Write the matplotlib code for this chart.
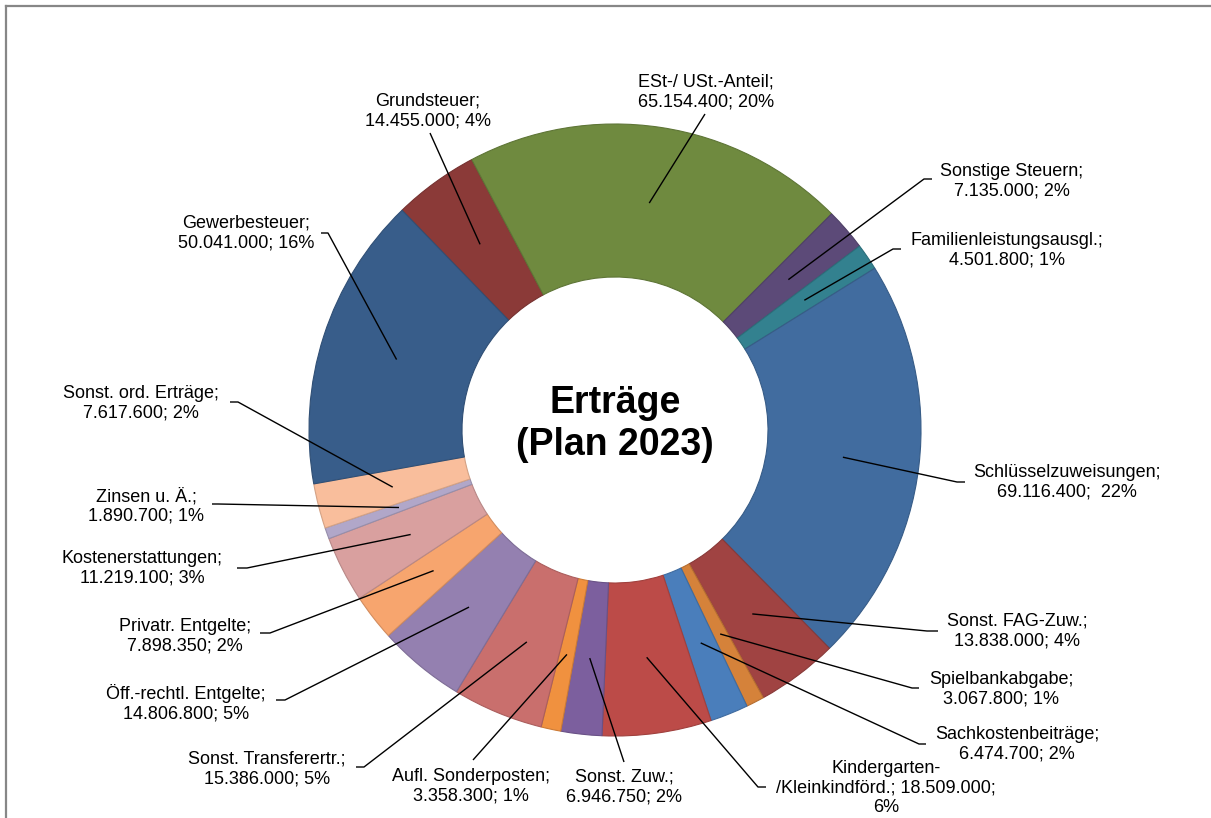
"""
Donut chart: Ertraege (Plan 2023)
"""

import numpy as np
import matplotlib
matplotlib.use('Agg')
import matplotlib.pyplot as plt
from matplotlib.lines import Line2D

plt.rcParams['font.family'] = ['Liberation Sans', 'DejaVu Sans']

# data, clockwise starting with Grundsteuer
names = ['Grundsteuer', 'ESt-/ USt.-Anteil', 'Sonstige Steuern', 'Familienleistungsausgl.',
         'Schlüsselzuweisungen', 'Sonst. FAG-Zuw.', 'Spielbankabgabe', 'Sachkostenbeiträge',
         'Kindergarten-/Kleinkindförd.', 'Sonst. Zuw.', 'Aufl. Sonderposten',
         'Sonst. Transferertr.', 'Öff.-rechtl. Entgelte', 'Privatr. Entgelte',
         'Kostenerstattungen', 'Zinsen u. Ä.', 'Sonst. ord. Erträge', 'Gewerbesteuer']
values = [14455000, 65154400, 7135000, 4501800,
          69116400, 13838000, 3067800, 6474700,
          18509000, 6946750, 3358300,
          15386000, 14806800, 7898350,
          11219100, 1890700, 7617600, 50041000]
colors = ['#8B3A38', '#6F8A3F', '#5C4A78', '#33818F',
          '#416C9F', '#A04342', '#D5823A', '#4A7EBB',
          '#BC4B48', '#7C5F9E', '#F0913F',
          '#C96F6D', '#9480B0', '#F7A56E',
          '#D9A09F', '#B1A7C9', '#F9BE9C', '#385D8A']

# label layout in pixels: text centre, elbow of leader line, end of short stub
lay = {
    'Grundsteuer': ((428, 111), (430, 133), None),
    'ESt-/ USt.-Anteil': ((706, 92), (705, 114), None),
    'Sonstige Steuern': ((1012, 181), (924, 179), (932, 179)),
    'Familienleistungsausgl.': ((1007, 250), (893, 249), (901, 249)),
    'Schlüsselzuweisungen': ((1067, 482), (957, 482), (965, 482)),
    'Sonst. FAG-Zuw.': ((1017, 631), (927, 631), (938, 631)),
    'Spielbankabgabe': ((1001, 689), (912, 688), (919, 688)),
    'Sachkostenbeiträge': ((1017, 744), (919, 744), (926, 744)),
    'Kindergarten-/Kleinkindförd.': ((886, 788), (758, 787), (766, 787)),
    'Sonst. Zuw.': ((624, 787), (624, 762), None),
    'Aufl. Sonderposten': ((471, 786), (473, 760), None),
    'Sonst. Transferertr.': ((267, 769), (364, 767), (356, 767)),
    'Öff.-rechtl. Entgelte': ((186, 703), (285, 700), (276, 700)),
    'Privatr. Entgelte': ((185, 636), (270, 633), (260, 633)),
    'Kostenerstattungen': ((142, 568), (247, 568), (237, 568)),
    'Zinsen u. Ä.': ((146, 506), (218, 504), (212, 504)),
    'Sonst. ord. Erträge': ((141, 403), (238, 402), (230, 402)),
    'Gewerbesteuer': ((246, 233), (328, 233), (321, 233)),
}

W, H = 1211, 818
cx, cy = 615, 430   # pie centre in pixels
R = 306

def P(x, y):
    # pixel (y down) -> data (y up)
    return x, H - y

def darker(c, f=0.85):
    rgb = np.array(matplotlib.colors.to_rgb(c))
    return tuple(rgb * f)

total = sum(values)

plt.close('all')
fig = plt.figure(figsize=(W / 100, H / 100), dpi=100)
ax = fig.add_axes([0, 0, 1, 1])

wedges, _ = ax.pie(values, colors=colors, startangle=134.1, counterclock=False,
                   radius=R, center=P(cx, cy),
                   wedgeprops=dict(width=R * 0.5, linewidth=0.8))
for w, c in zip(wedges, colors):
    w.set_edgecolor(darker(c))

ax.set_xlim(0, W)
ax.set_ylim(0, H)
ax.set_aspect('equal')
ax.axis('off')

fs = 13
for w, name, v in zip(wedges, names, values):
    pct = int(round(v / total * 100))
    val = f'{v:,}'.replace(',', '.')
    if name.startswith('Kindergarten'):
        txt = f'Kindergarten-\n/Kleinkindförd.; {val};\n{pct}%'
    elif name.startswith('Schlüssel'):
        txt = f'{name};\n{val};  {pct}%'
    else:
        txt = f'{name};\n{val}; {pct}%'
    tpos, elbow, stub = lay[name]
    ax.text(*P(*tpos), txt, ha='center', va='center', fontsize=fs,
            linespacing=1.18, multialignment='center', color='#000000')
    # leader line from wedge middle
    mid = np.deg2rad((w.theta1 + w.theta2) / 2)
    ax_, ay_ = P(cx, cy)
    anc = (ax_ + 0.75 * R * np.cos(mid), ay_ + 0.75 * R * np.sin(mid))
    xs = [anc[0], P(*elbow)[0]]
    ys = [anc[1], P(*elbow)[1]]
    if stub is not None:
        xs.append(P(*stub)[0])
        ys.append(P(*stub)[1])
    ax.plot(xs, ys, color='black', linewidth=1.0, solid_capstyle='butt')

# centre title
ax.text(*P(cx, 413), 'Erträge', ha='center', va='baseline', fontsize=27,
        fontweight='bold')
ax.text(*P(cx, 455), '(Plan 2023)', ha='center', va='baseline', fontsize=27,
        fontweight='bold')

# chart area border (top and left visible)
fig.add_artist(Line2D([5.5 / W, 1.0], [1 - 5.5 / H, 1 - 5.5 / H],
                      transform=fig.transFigure, color='#878787', linewidth=1.6))
fig.add_artist(Line2D([5.5 / W, 5.5 / W], [0, 1 - 5.5 / H],
                      transform=fig.transFigure, color='#878787', linewidth=1.6))

fig.savefig('out.png', dpi=100, facecolor='white')
